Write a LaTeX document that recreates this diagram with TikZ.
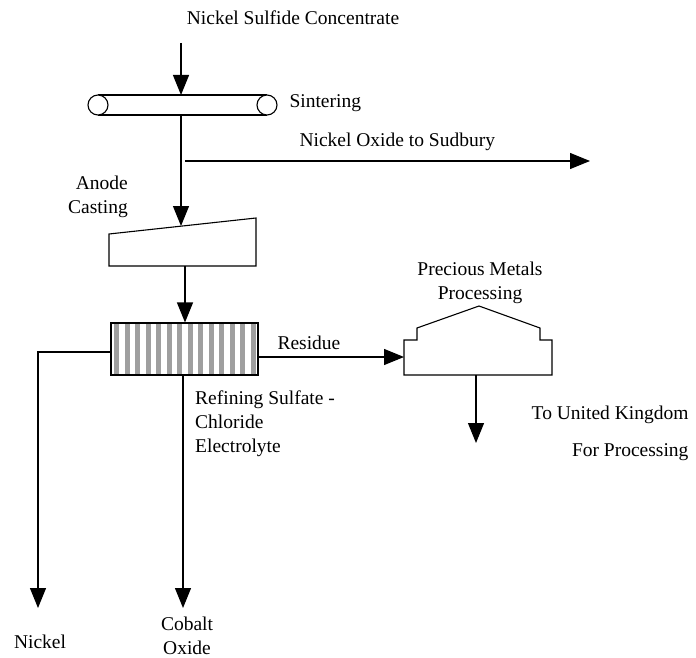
\documentclass[tikz,border=0pt]{standalone}
\usepackage{fontspec}
\setmainfont{Liberation Serif}
\usetikzlibrary{arrows.meta,positioning}

\begin{document}
\begin{tikzpicture}[
  x=1pt, y=-1pt,
  every node/.style={font=\fontsize{19.5}{24}\selectfont},
  lbl/.style={align=center, inner sep=0pt},
  unit/.style={draw, line width=1.1pt},
  arr/.style={-{Triangle[width=16pt,length=20pt]}, line width=1.2pt}
]
\useasboundingbox (0,0) rectangle (696,658);

% sintering belt
\node[inner sep=0pt, minimum width=189pt, minimum height=20pt] (sinter) at (182.5,105) {};
\draw[line width=1.1pt] (98,95) -- (267,95) (98,115) -- (267,115);
\draw[line width=1.1pt, fill=white] (98,105) circle (10) (267,105) circle (10);

% anode casting
\coordinate (casttop) at (181,226);
\draw[unit] (109,234) -- (256,218) -- (256,266) -- (109,266) -- cycle;
\coordinate (castout) at (185,266);

% electrolytic refining cell
\node[unit, inner sep=0pt, minimum width=147pt, minimum height=52pt,
  path picture={
    \foreach \i in {0,...,13}
      \fill[gray!75] ([xshift=3+\i*10.5]path picture bounding box.north west) rectangle +(5,52);
  }] (cell) at (184.5,349) {};

% precious metals furnace
\draw[unit] (404,375) -- (404,340) -- (417,340) -- (417,328) -- (479,306) -- (540,328)
  -- (540,340) -- (552,340) -- (552,375) -- cycle;
\coordinate (pmin) at (404,357);
\coordinate (pmout) at (476,375);

% labels
\node (feed) at (293,18) {Nickel Sulfide Concentrate};
\node[anchor=west] (sinterlbl) at (286,103) {Sintering};
\node[anchor=west] (oxide) at (296,142) {Nickel Oxide to Sudbury};
\node[lbl, align=right, anchor=east] (castlbl) at (128,197) {Anode\\Casting};
\node[anchor=west] (residue) at (274,343) {Residue};
\node[lbl] (pmlbl) at (480,283) {Precious Metals\\Processing};
\node[anchor=east] (uk) at (692,415) {To United Kingdom};
\node[anchor=east] (ukproc) at (692,452) {For Processing};
\node[lbl, align=left, anchor=west] (electrolyte) at (195,424) {Refining Sulfate -\\Chloride\\Electrolyte};
\node (nickel) at (40,642) {Nickel};
\node[lbl] (cobalt) at (187,636) {Cobalt\\Oxide};

% free ends
\coordinate (feedin) at (181,43);
\coordinate (sudbury) at (590,161);
\coordinate (branch) at (185,161);
\coordinate (nickelout) at (38,608);
\coordinate (cobaltout) at (183,608);
\coordinate (ukout) at (476,443);

% flows
\draw[arr] (feedin) -- (181,95);
\draw[arr] (181,115) -- (casttop);
\draw[arr] (branch) -- (sudbury);
\draw[arr] (castout) -- (cell.north -| castout);
\draw[arr] (cell.west |- 0,352) -- (38,352) -- (nickelout);
\draw[arr] (cell.south -| cobaltout) -- (cobaltout);
\draw[arr] (cell.east |- pmin) -- (pmin);
\draw[arr] (pmout) -- (ukout);
\end{tikzpicture}
\end{document}
